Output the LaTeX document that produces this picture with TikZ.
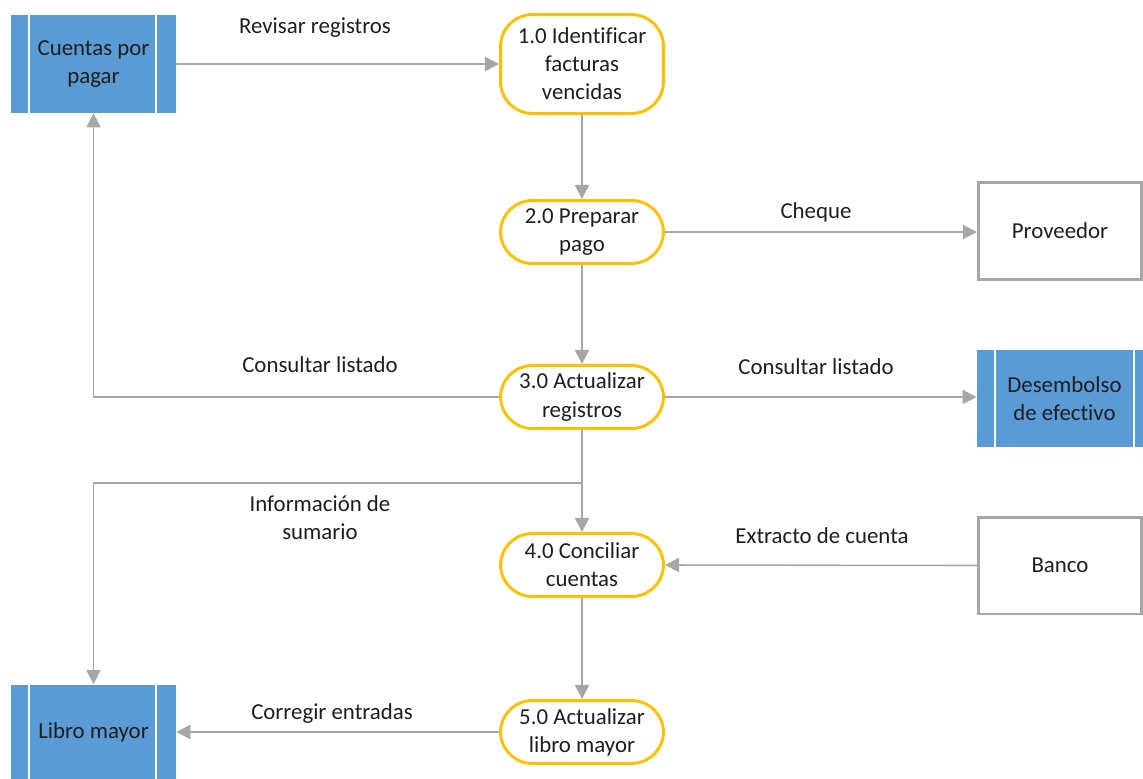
\documentclass[tikz,border=0pt]{standalone}
\usepackage{fontspec}
\setmainfont[Ligatures=NoCommon]{Carlito}
\usetikzlibrary{arrows.meta}
\definecolor{procorange}{HTML}{FFC000}
\definecolor{storeblue}{HTML}{5B9BD5}
\definecolor{flowgray}{HTML}{A6A6A6}
\definecolor{txt}{HTML}{1E1E1E}
\tikzset{
  proc/.style={draw=procorange, line width=1.7pt, fill=white, rounded corners=0.64cm,
    minimum width=3.26cm, align=center, inner sep=0pt, text=txt,
    font=\fontsize{13}{16}\selectfont},
  extent/.style={draw=flowgray, line width=1.7pt, fill=white, minimum width=3.26cm,
    minimum height=1.94cm, align=center, inner sep=0pt, text=txt,
    font=\fontsize{13}{16}\selectfont},
  store/.style={fill=storeblue, minimum width=3.3cm, align=center, inner sep=0pt,
    text=txt, font=\fontsize{13}{16}\selectfont},
  bar/.style={draw=white, line width=1.3pt},
  flow/.style={draw=flowgray, line width=0.9pt, -{Triangle[length=8pt,width=8pt]}},
  lbl/.style={align=center, inner sep=0pt, text=txt, font=\fontsize{13}{16}\selectfont},
}
\begin{document}
\begin{tikzpicture}[x=0.02cm, y=-0.02cm]
\useasboundingbox (0,0) rectangle (1143,778);
\clip (0,0) rectangle (1143,778);

% data stores
\node[store, minimum height=1.96cm] (cpp) at (93.5,64) {Cuentas por\\pagar};
\draw[bar] ([xshift=0.36cm]cpp.north west) -- ([xshift=0.36cm]cpp.south west);
\draw[bar] ([xshift=-0.40cm]cpp.north east) -- ([xshift=-0.40cm]cpp.south east);

\node[store, minimum width=3.5cm, minimum height=1.94cm] (des) at (1064.5,398.5) {Desembolso\\de efectivo};
\draw[bar] ([xshift=0.36cm]des.north west) -- ([xshift=0.36cm]des.south west);
\draw[bar] ([xshift=-0.36cm]des.north east) -- ([xshift=-0.36cm]des.south east);

\node[store, minimum height=1.9cm] (lm) at (93.5,732) {Libro mayor};
\draw[bar] ([xshift=0.36cm]lm.north west) -- ([xshift=0.36cm]lm.south west);
\draw[bar] ([xshift=-0.40cm]lm.north east) -- ([xshift=-0.40cm]lm.south east);

% processes
\node[proc, minimum height=1.98cm] (p1) at (582,64) {1.0 Identificar\\facturas\\vencidas};
\node[proc, minimum height=1.26cm] (p2) at (582,232) {2.0 Preparar\\pago};
\node[proc, minimum height=1.26cm] (p3) at (582,397) {3.0 Actualizar\\registros};
\node[proc, minimum height=1.26cm] (p4) at (582,565) {4.0 Conciliar\\cuentas};
\node[proc, minimum height=1.26cm] (p5) at (582,732) {5.0 Actualizar\\libro mayor};

% external entities
\node[extent] (prov) at (1060,231) {Proveedor};
\node[extent] (banco) at (1060,565.5) {Banco};

% flows
\draw[flow] (cpp.east) -- (p1.west);
\draw[flow] (p1.south) -- (p2.north);
\draw[flow] (p2.east) -- (prov.west |- p2.east);
\draw[flow] (p2.south) -- (p3.north);
\draw[flow] (p3.west) -| (cpp.south);
\draw[flow] (p3.east) -- (des.west |- p3.east);
\draw[flow] (p3.south) -- (p4.north);
\coordinate (split) at (582,483);
\draw[flow] (split) -| (lm.north);
\draw[flow] (banco.west) -- (p4.east);
\draw[flow] (p4.south) -- (p5.north);
\draw[flow] (p5.west) -- (lm.east);

% flow labels
\node[lbl] (l1) at (315,28) {Revisar registros};
\node[lbl] (l2) at (816,212) {Cheque};
\node[lbl] (l3) at (320,365) {Consultar listado};
\node[lbl] (l4) at (816,367) {Consultar listado};
\node[lbl] (l5) at (320,518) {Información de\\sumario};
\node[lbl] (l6) at (822,536) {Extracto de cuenta};
\node[lbl] (l7) at (332,714) {Corregir entradas};
\end{tikzpicture}
\end{document}
